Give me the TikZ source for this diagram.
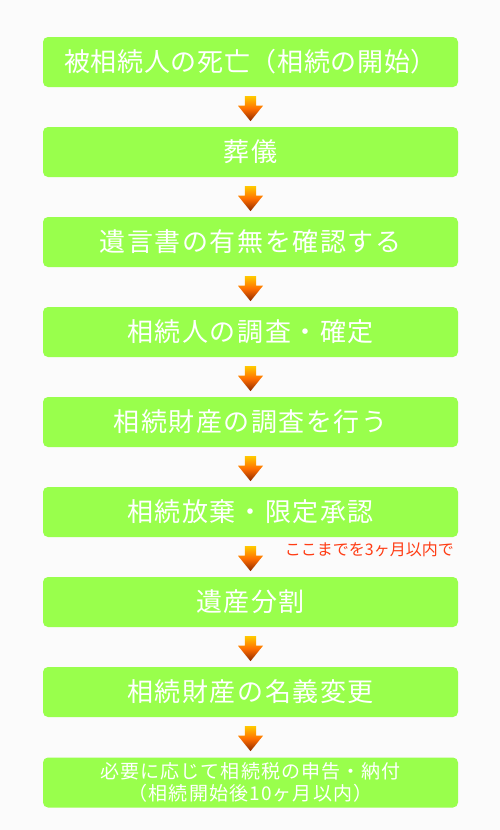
\documentclass[tikz,border=0pt]{standalone}
\usepackage{fontspec}
\setmainfont{Noto Sans CJK JP}
\newfontfamily\jpfont[LetterSpace=6]{Noto Sans CJK JP}
\newfontfamily\jpfonttight[LetterSpace=2.5]{Noto Sans CJK JP}
\usetikzlibrary{calc}
\definecolor{boxgreen}{RGB}{153,255,76}
\definecolor{notered}{RGB}{255,60,20}
\definecolor{arrtop}{RGB}{255,200,0}
\definecolor{arrmid}{RGB}{255,110,0}
\definecolor{arrbot}{RGB}{140,40,0}
\definecolor{bgcol}{RGB}{251,251,251}
\tikzset{
  stepbox/.style={fill=boxgreen, draw=none, rounded corners=5pt, minimum width=415pt, minimum height=50pt, inner sep=0pt, text=white, font=\jpfont\fontsize{26}{30}\selectfont},
  widebox/.style={stepbox, font=\jpfonttight\fontsize{26}{30}\selectfont},
  smallbox/.style={stepbox, font=\jpfont\fontsize{19}{22}\selectfont, align=center},
  arrowshade/.style={top color=arrtop, bottom color=arrbot, middle color=arrmid, draw=none},
  notetext/.style={text=notered, font=\fontsize{16}{18}\selectfont, inner sep=0pt}
}
\newcommand{\downarrowbetween}[1]{%
  \shade[arrowshade] ($(#1.south)+(-5.7pt,-9pt)$) -- ($(#1.south)+(5.7pt,-9pt)$) -- ($(#1.south)+(5.7pt,-18.5pt)$) -- ($(#1.south)+(12.5pt,-18.5pt)$) -- ($(#1.south)+(0pt,-34pt)$) -- ($(#1.south)+(-12.5pt,-18.5pt)$) -- ($(#1.south)+(-5.7pt,-18.5pt)$) -- cycle;}
\begin{document}
\begin{tikzpicture}[x=1pt,y=-1pt]
\fill[bgcol] (0,0) rectangle (500,830);
\useasboundingbox (0,0) rectangle (500,830);
\node[widebox] (b1) at (250.5,62) {被相続人の死亡（相続の開始）};
\node[stepbox] (b2) at (250.5,152) {葬儀};
\node[stepbox] (b3) at (250.5,242) {遺言書の有無を確認する};
\node[stepbox] (b4) at (250.5,332) {相続人の調査・確定};
\node[stepbox] (b5) at (250.5,422) {相続財産の調査を行う};
\node[stepbox] (b6) at (250.5,512) {相続放棄・限定承認};
\node[stepbox] (b7) at (250.5,602) {遺産分割};
\node[stepbox] (b8) at (250.5,692) {相続財産の名義変更};
\node[smallbox] (b9) at (250.5,782.5) {必要に応じて相続税の申告・納付\\（相続開始後10ヶ月以内）};
\node[notetext, anchor=east] (note) at (454,549.5) {ここまでを3ヶ月以内で};
\foreach \b in {b1,b2,b3,b4,b5,b6,b7,b8} {\downarrowbetween{\b}}
\end{tikzpicture}
\end{document}
